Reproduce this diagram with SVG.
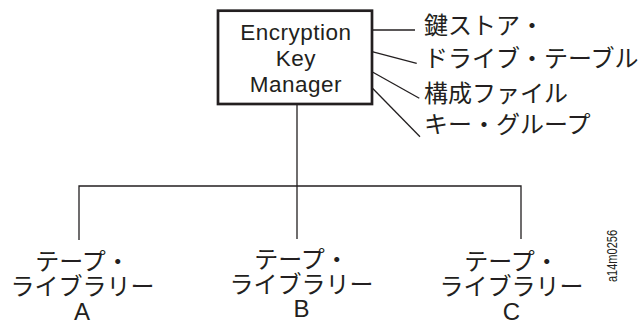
<svg xmlns="http://www.w3.org/2000/svg" width="639" height="322" viewBox="0 0 639 322">
<style>
.lat{font-family:"Liberation Sans",Arial,sans-serif;fill:#231f20}
.jp{font-family:"Noto Sans CJK JP","Noto Sans",sans-serif;fill:#231f20}
.ln{stroke:#231f20;stroke-width:1.3;fill:none}
</style>
<rect width="639" height="322" fill="#fff"/>
<g id="connectors">
<line class="ln" x1="372" y1="30" x2="415" y2="30"/>
<line class="ln" x1="372" y1="51.7" x2="416.7" y2="63.3"/>
<line class="ln" x1="372" y1="71.7" x2="419.3" y2="98.3"/>
<line class="ln" x1="372" y1="87.7" x2="420" y2="136.7"/>
<polyline class="ln" points="297,105 297,239"/>
<polyline class="ln" points="79,240 79,186 521,186 521,239"/>
</g>
<g id="ekm">
<rect x="218" y="10.7" width="154" height="93.3" fill="#fff" stroke="#231f20" stroke-width="2.7"/>
<g class="lat" font-size="22.5" letter-spacing="0.5" text-anchor="middle">
<text x="295.8" y="40">Encryption</text>
<text x="295.8" y="65.5">Key</text>
<text x="295.8" y="91.8">Manager</text>
</g>
</g>
<g id="keystore"><text class="jp" x="424" y="34" font-size="24">鍵ストア・</text></g>
<g id="drivetable"><text class="jp" x="424" y="66.5" font-size="24">ドライブ・テーブル</text></g>
<g id="config"><text class="jp" x="424" y="101.5" font-size="24">構成ファイル</text></g>
<g id="keygroup"><text class="jp" x="424" y="133" font-size="24">キー・グループ</text></g>
<g id="libA" text-anchor="middle">
<text class="jp" x="82.5" y="270" font-size="24">テープ・</text>
<text class="jp" x="82.5" y="295" font-size="24">ライブラリー</text>
<text class="lat" x="82" y="320" font-size="24">A</text>
</g>
<g id="libB" text-anchor="middle">
<text class="jp" x="301.5" y="268" font-size="24">テープ・</text>
<text class="jp" x="301.5" y="293" font-size="24">ライブラリー</text>
<text class="lat" x="301.5" y="317.3" font-size="24">B</text>
</g>
<g id="libC" text-anchor="middle">
<text class="jp" x="511.5" y="270" font-size="24">テープ・</text>
<text class="jp" x="511.5" y="295" font-size="24">ライブラリー</text>
<text class="lat" x="511.5" y="319.5" font-size="24">C</text>
</g>
<text class="lat" transform="translate(616.8,282) rotate(-90)" font-size="14" textLength="52" lengthAdjust="spacingAndGlyphs">a14m0256</text>
</svg>
